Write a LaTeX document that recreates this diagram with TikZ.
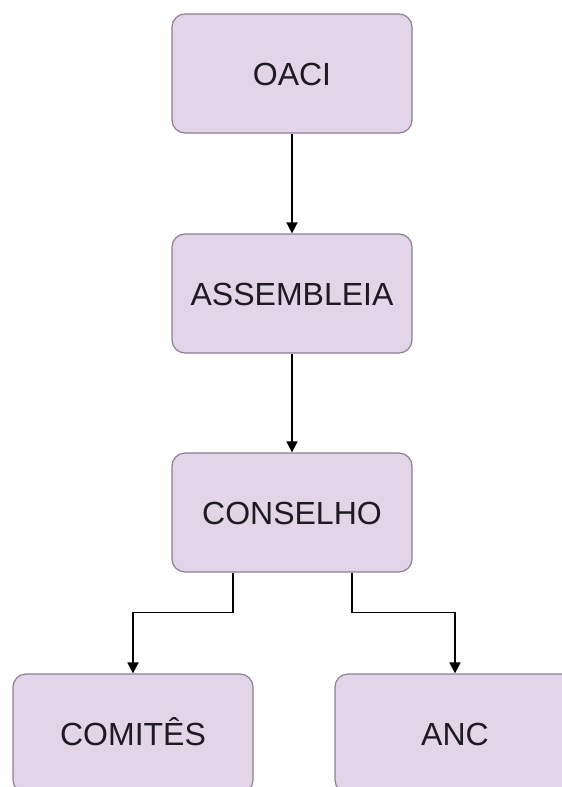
\documentclass[tikz,border=0pt]{standalone}
\usepackage{fontspec}
\setmainfont{Liberation Sans}
\usetikzlibrary{arrows.meta}
\definecolor{boxfill}{HTML}{E1D5E7}
\definecolor{boxline}{HTML}{8E7E98}
\definecolor{txt}{HTML}{1E1A22}
\begin{document}
\begin{tikzpicture}[x=1pt,y=1pt,
  orgbox/.style={draw=boxline, fill=boxfill, line width=1.2pt, rounded corners=13pt,
    minimum width=240pt, minimum height=119pt, inner sep=0pt,
    text height=23pt, text depth=0pt,
    font=\fontsize{32}{38}\selectfont, text=txt},
  arr/.style={draw=black, line width=1.6pt, -{Triangle[length=11pt,width=11pt]}}]
\useasboundingbox (0,0) rectangle (562,-787);
\clip (0,0) rectangle (562,-787);
\fill[white] (0,0) rectangle (562,-787);
\node[orgbox] (oaci) at (292,-73.5) {OACI};
\node[orgbox] (assembleia) at (292,-293.5) {ASSEMBLEIA};
\node[orgbox] (conselho) at (292,-512.5) {CONSELHO};
\node[orgbox] (comites) at (133,-733.5) {COMITÊS};
\node[orgbox] (anc) at (455,-733.5) {ANC};
\draw[arr] (oaci) -- (assembleia);
\draw[arr] (assembleia) -- (conselho);
\draw[arr] ([xshift=-59pt]conselho.south) -- ++(0,-40) -| (comites.north);
\draw[arr] ([xshift=60pt]conselho.south) -- ++(0,-40) -| (anc.north);
\end{tikzpicture}
\end{document}
